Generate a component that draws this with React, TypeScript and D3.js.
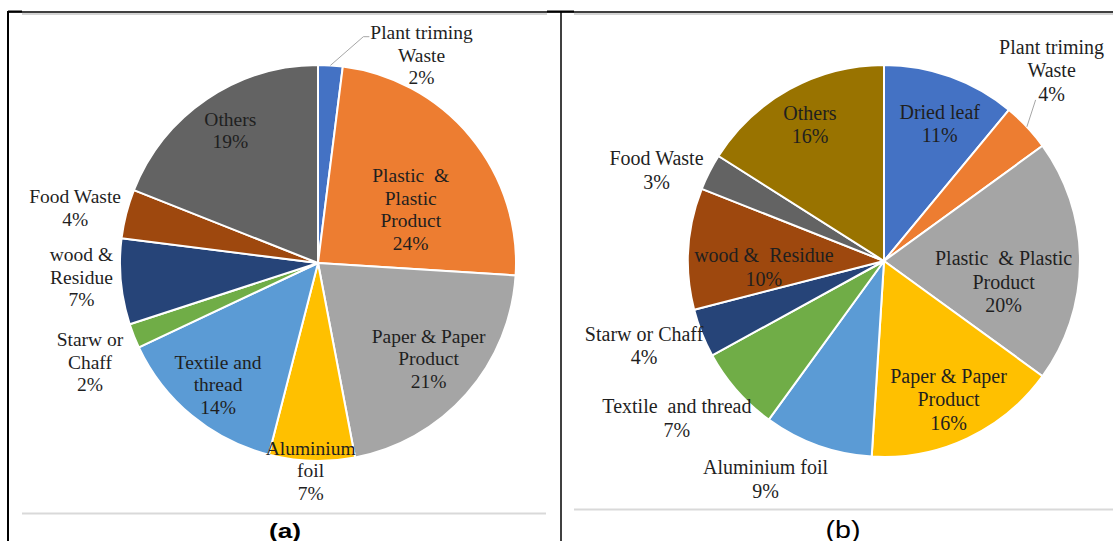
import React from "react";
import * as d3 from "d3";

// ---- Data ----
// Panel (a): composition by category, clockwise from 12 o'clock
const labelsA = [
  "Plant triming\nWaste",
  "Plastic  &\nPlastic\nProduct",
  "Paper & Paper\nProduct",
  "Aluminium\nfoil",
  "Textile and\nthread",
  "Starw or\nChaff",
  "wood &\nResidue",
  "Food Waste",
  "Others",
];
const valuesA = [2, 24, 21, 7, 14, 2, 7, 4, 19];
const coloursA = [
  "#4472C4", "#ED7D31", "#A5A5A5", "#FFC000", "#5B9BD5",
  "#70AD47", "#264478", "#9E480E", "#636363",
];

// Panel (b)
const labelsB = [
  "Dried leaf",
  "Plant triming\nWaste",
  "Plastic  & Plastic\nProduct",
  "Paper & Paper\nProduct",
  "Aluminium foil",
  "Textile  and thread",
  "Starw or Chaff",
  "wood &  Residue",
  "Food Waste",
  "Others",
];
const valuesB = [11, 4, 20, 16, 9, 7, 4, 10, 3, 16];
const coloursB = [
  "#4472C4", "#ED7D31", "#A5A5A5", "#FFC000", "#5B9BD5",
  "#70AD47", "#264478", "#9E480E", "#636363", "#997300",
];

// ---- Label placement: radius factor along the slice bisector plus a nudge ----
type Place = { k: number; dx: number; dy: number; leader?: number[][] };
const placeA: Place[] = [
  { k: 1.17, dx: 89, dy: 23.4, leader: [[-58.2, -18.5], [-52.2, -18.5]] },
  { k: 0.6, dx: 1.2, dy: 22.3 },
  { k: 0.7, dx: 6.6, dy: 4.2 },
  { k: 1.05, dx: -0.8, dy: 0.2 },
  { k: 0.8, dx: 1, dy: 0 },
  { k: 1.256, dx: 3.2, dy: 7.8 },
  { k: 1.197, dx: -0.6, dy: -8 },
  { k: 1.258, dx: -1.6, dy: 6.9 },
  { k: 0.8, dx: 1.4, dy: -1.4 },
];
const placeB: Place[] = [
  { k: 0.755, dx: 5.6, dy: 2.2 },
  { k: 1.29, dx: -16.7, dy: -17.4, leader: [[-16, 29.4]] },
  { k: 0.62, dx: -1.9, dy: 20.9 },
  { k: 0.78, dx: -0.6, dy: 0.4 },
  { k: 1.266, dx: -34.4, dy: -15.2 },
  { k: 1.327, dx: -12, dy: -14.6 },
  { k: 1.3, dx: -3, dy: -8.7 },
  { k: 0.614, dx: 0, dy: 14 },
  { k: 1.249, dx: -9.4, dy: 20.6 },
  { k: 0.79, dx: 0.6, dy: -0.2 },
];

const SERIF = "'Liberation Serif', 'Times New Roman', serif";
const SANS = "'Liberation Sans', Arial, sans-serif";

type PieProps = {
  labels: string[];
  values: number[];
  colours: string[];
  place: Place[];
  cx: number;
  cy: number;
  r: number;
  fontSize: number;
  lineH: number;
};

function Pie({ labels, values, colours, place, cx, cy, r, fontSize, lineH }: PieProps) {
  const rows = values.map((v, i) => ({ v, i }));
  const arcs = d3.pie<{ v: number; i: number }>().sort(null).value((d) => d.v)(rows);
  const arc = d3.arc<d3.PieArcDatum<{ v: number; i: number }>>().innerRadius(0).outerRadius(r);
  const total = d3.sum(values);
  const polar = (a: number, d: number): [number, number] => [cx + d * Math.sin(a), cy - d * Math.cos(a)];

  return (
    <g>
      <g transform={`translate(${cx},${cy})`}>
        {arcs.map((a) => (
          <path
            key={a.data.i}
            d={arc(a) || ""}
            fill={colours[a.data.i]}
            stroke="#fff"
            strokeWidth={2}
            strokeLinejoin="round"
          />
        ))}
      </g>
      {arcs.map((a) => {
        const p = place[a.data.i];
        const mid = (a.startAngle + a.endAngle) / 2;
        const [bx, by] = polar(mid, p.k * r);
        const x = bx + p.dx;
        const y = by + p.dy;
        const lines = labels[a.data.i].split("\n");
        lines.push(`${Math.round((a.data.v / total) * 100)}%`);
        const n = lines.length;
        let leader = null;
        if (p.leader) {
          const start = polar(mid, r);
          const pts = [start, ...p.leader.map(([lx, ly]) => [x + lx, y + ly])];
          leader = (
            <polyline
              points={pts.map((q) => q.join(",")).join(" ")}
              fill="none"
              stroke="#A6A6A6"
              strokeWidth={1}
            />
          );
        }
        return (
          <g key={"l" + a.data.i}>
            {leader}
            <text
              fontFamily={SERIF}
              fontSize={fontSize}
              fill="#1f1f1f"
              textAnchor="middle"
              style={{ whiteSpace: "pre" }}
            >
              {lines.map((t, j) => (
                <tspan key={j} x={x} y={y + (j - (n - 1) / 2) * lineH + fontSize * 0.33}>
                  {t}
                </tspan>
              ))}
            </text>
          </g>
        );
      })}
    </g>
  );
}

export default function App() {
  const W = 1113;
  const H = 541;
  return (
    <svg
      width={W}
      height={H}
      viewBox={`0 0 ${W} ${H}`}
      style={{ position: "absolute", left: 0, top: 0, background: "#fff", display: "block" }}
    >
      <rect x={0} y={0} width={W} height={H} fill="#fff" />
      {/* table frame */}
      <line x1={8} y1={12} x2={W} y2={12} stroke="#000" strokeWidth={1.3} />
      <line x1={8} y1={11.5} x2={22} y2={11.5} stroke="#000" strokeWidth={2} />
      <line x1={547} y1={11.5} x2={574} y2={11.5} stroke="#000" strokeWidth={2} />
      <line x1={22} y1={14} x2={547} y2={14} stroke="#D4D4D4" strokeWidth={2} />
      <line x1={574} y1={14} x2={W} y2={14} stroke="#D4D4D4" strokeWidth={2} />
      <line x1={8} y1={11} x2={8} y2={H} stroke="#000" strokeWidth={2} />
      <line x1={561} y1={11} x2={561} y2={H} stroke="#000" strokeWidth={1.5} />

      <Pie
        labels={labelsA}
        values={valuesA}
        colours={coloursA}
        place={placeA}
        cx={318}
        cy={263}
        r={198}
        fontSize={19.5}
        lineH={22.7}
      />
      <Pie
        labels={labelsB}
        values={valuesB}
        colours={coloursB}
        place={placeB}
        cx={884}
        cy={261}
        r={196}
        fontSize={20}
        lineH={23.5}
      />

      {/* caption separators */}
      <line x1={22} y1={513.5} x2={546} y2={513.5} stroke="#D9D9D9" strokeWidth={2} />
      <line x1={574} y1={509.5} x2={W} y2={509.5} stroke="#D9D9D9" strokeWidth={2} />

      <text
        x={285}
        y={538}
        fontFamily={SANS}
        fontWeight="bold"
        fontSize={21}
        textAnchor="middle"
        textLength={32}
        lengthAdjust="spacingAndGlyphs"
        fill="#000"
      >
        (a)
      </text>
      <text
        x={843}
        y={537.5}
        fontFamily={SANS}
        fontSize={23}
        textAnchor="middle"
        textLength={35}
        lengthAdjust="spacingAndGlyphs"
        fill="#000"
      >
        (b)
      </text>
    </svg>
  );
}
